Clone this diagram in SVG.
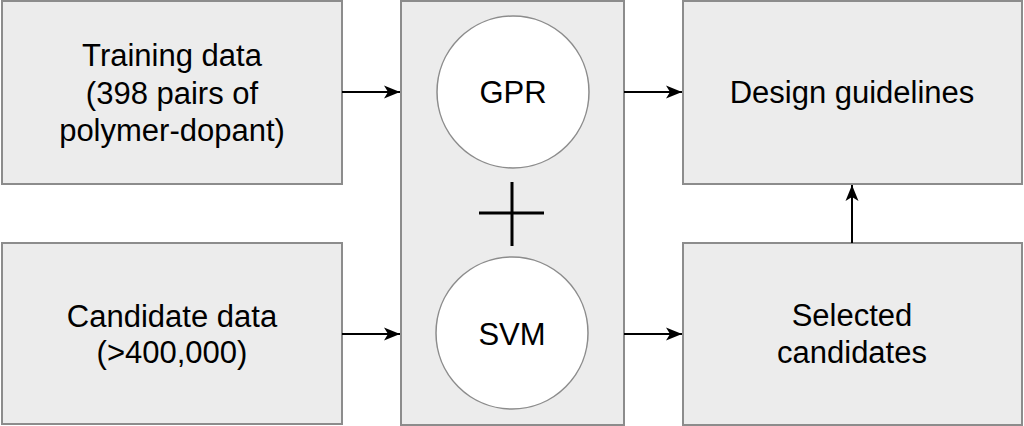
<svg xmlns="http://www.w3.org/2000/svg" width="1024" height="426" viewBox="0 0 1024 426">
<style>
.box{fill:#ececec;stroke:#8c8c8c;stroke-width:2}
.circ{fill:#ffffff;stroke:#8c8c8c;stroke-width:1.5}
.t{font-family:"Liberation Sans",Arial,Helvetica,sans-serif;font-size:31px;fill:#000;text-anchor:middle}
.c{stroke:#000;stroke-width:2;fill:none}
</style>
<defs>
<marker id="arr" markerUnits="userSpaceOnUse" markerWidth="18" markerHeight="14" refX="17" refY="7" orient="auto">
<path d="M17,7 L1,0.5 L5,7 L1,13.5 Z" fill="#000"/>
</marker>
</defs>
<rect width="1024" height="426" fill="#fff"/>
<g id="training">
<rect class="box" x="2" y="1" width="340" height="183"/>
<text class="t" x="172" y="66">Training data</text>
<text class="t" x="172" y="104">(398 pairs of</text>
<text class="t" x="172" y="141">polymer-dopant)</text>
</g>
<g id="candidate">
<rect class="box" x="2" y="243" width="340" height="181"/>
<text class="t" x="172" y="327">Candidate data</text>
<text class="t" x="172" y="363">(&gt;400,000)</text>
</g>
<g id="models">
<rect class="box" x="401" y="1" width="223" height="424"/>
<g id="gpr">
<circle class="circ" cx="513" cy="92" r="76"/>
<text class="t" x="513" y="103">GPR</text>
</g>
<g id="plus">
<line x1="512" y1="182" x2="512" y2="246" stroke="#000" stroke-width="3"/>
<line x1="479" y1="213" x2="544" y2="213" stroke="#000" stroke-width="3"/>
</g>
<g id="svm">
<circle class="circ" cx="512" cy="333" r="76"/>
<text class="t" x="512" y="345">SVM</text>
</g>
</g>
<g id="design">
<rect class="box" x="683" y="1" width="339" height="183"/>
<text class="t" x="852" y="103">Design guidelines</text>
</g>
<g id="selected">
<rect class="box" x="683" y="243" width="339" height="182"/>
<text class="t" x="852" y="326">Selected</text>
<text class="t" x="852" y="363">candidates</text>
</g>
<g id="connectors">
<line class="c" x1="342" y1="92" x2="400" y2="92" marker-end="url(#arr)"/>
<line class="c" x1="342" y1="334" x2="400" y2="334" marker-end="url(#arr)"/>
<line class="c" x1="624" y1="92" x2="682" y2="92" marker-end="url(#arr)"/>
<line class="c" x1="624" y1="334" x2="682" y2="334" marker-end="url(#arr)"/>
<line class="c" x1="852" y1="243" x2="852" y2="185" marker-end="url(#arr)"/>
</g>
</svg>
